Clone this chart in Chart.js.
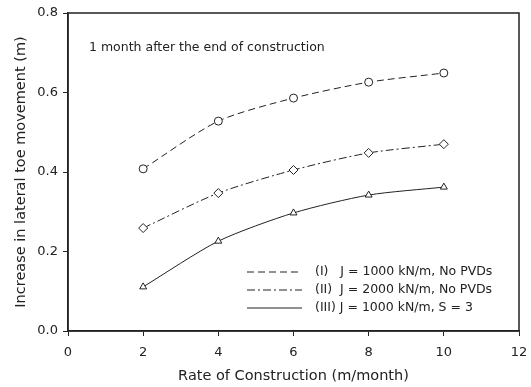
<!DOCTYPE html>
<html lang="en">
<head>
  <meta charset="UTF-8" />
  <title>Lateral toe movement</title>
  <script src="https://cdn.jsdelivr.net/npm/chart.js"></script>
  <style>
    html, body { margin: 0; padding: 0; background: #fff; }
    #wrap { width: 531px; height: 387px; position: relative; }
  </style>
</head>
<body>
<div id="wrap"><canvas id="chart"></canvas></div>
<script>
  const rates = [2, 4, 6, 8, 10];
  const caseI = [0.408, 0.528, 0.586, 0.626, 0.649];
  const caseII = [0.259, 0.347, 0.405, 0.448, 0.470];
  const caseIII = [0.111, 0.226, 0.297, 0.342, 0.362];
  const labels = [
    '(I)   J = 1000 kN/m, No PVDs',
    '(II)  J = 2000 kN/m, No PVDs',
    '(III) J = 1000 kN/m, S = 3'
  ];
  const yTicks = [0, 0.2, 0.4, 0.6, 0.8];

  const font = '"DejaVu Sans", Verdana, sans-serif';
  const ink = '#222';

  function pts(ys) {
    return rates.map((x, i) => ({ x: x, y: ys[i] }));
  }

  // frame + in-plot legend + note
  const extras = {
    id: 'extras',
    afterDraw(chart) {
      const c = chart.ctx;
      const a = chart.chartArea;
      c.save();
      c.strokeStyle = ink;
      c.lineWidth = 1.5;
      c.strokeRect(a.left, a.top, a.right - a.left, a.bottom - a.top);

      c.fillStyle = ink;
      c.font = '12.5px ' + font;
      c.textBaseline = 'middle';
      c.fillText('1 month after the end of construction', 89, 48);

      const rows = [272, 290, 308];
      chart.data.datasets.forEach((ds, i) => {
        c.beginPath();
        c.setLineDash(ds.borderDash || []);
        c.lineWidth = 1;
        c.strokeStyle = ink;
        c.moveTo(247, rows[i]);
        c.lineTo(302, rows[i]);
        c.stroke();
        c.setLineDash([]);
        c.fillText(ds.label, 315, rows[i]);
      });
      c.restore();
    }
  };

  function series(label, ys, dash, marker) {
    return {
      label: label,
      data: pts(ys),
      borderColor: ink,
      borderWidth: 1,
      borderDash: dash,
      pointStyle: marker,
      pointRadius: marker === 'rectRot' ? 4.5 : 4,
      pointBackgroundColor: '#fff',
      pointBorderColor: ink,
      pointBorderWidth: 1,
      tension: 0.25,
      fill: false
    };
  }

  new Chart(document.getElementById('chart'), {
    type: 'line',
    data: {
      datasets: [
        series(labels[0], caseI, [7, 4], 'circle'),
        series(labels[1], caseII, [8, 3, 2, 3], 'rectRot'),
        series(labels[2], caseIII, [], 'triangle')
      ]
    },
    options: {
      responsive: true,
      maintainAspectRatio: false,
      animation: false,
      layout: { padding: { top: 13, right: 12, left: 0, bottom: 0 } },
      plugins: {
        legend: { display: false },
        tooltip: { enabled: false }
      },
      scales: {
        x: {
          type: 'linear',
          min: 0,
          max: 12,
          ticks: { stepSize: 2, color: ink, font: { family: font, size: 13 }, padding: 9 },
          grid: { drawOnChartArea: false, tickLength: 5, color: ink },
          border: { color: ink, width: 1.5 },
          title: {
            display: true,
            text: 'Rate of Construction (m/month)',
            color: ink,
            font: { family: font, size: 14.5 },
            padding: { top: 4, bottom: 2 }
          },
          afterFit(s) {
            s.height = 56;
            s.paddingLeft = 0;
            s.paddingRight = 0;
          }
        },
        y: {
          min: 0,
          max: 0.8,
          afterBuildTicks(s) { s.ticks = yTicks.map(v => ({ value: v })); },
          ticks: {
            color: ink,
            font: { family: font, size: 13 },
            padding: 5,
            callback: v => Number(v).toFixed(1)
          },
          grid: { drawOnChartArea: false, tickLength: 5, color: ink },
          border: { color: ink, width: 1.5 },
          title: {
            display: true,
            text: 'Increase in lateral toe movement (m)',
            color: ink,
            font: { family: font, size: 14.5 },
            padding: { top: 13, bottom: 4 }
          },
          afterFit(s) { s.width = 68; }
        }
      }
    },
    plugins: [extras]
  });
</script>
</body>
</html>
